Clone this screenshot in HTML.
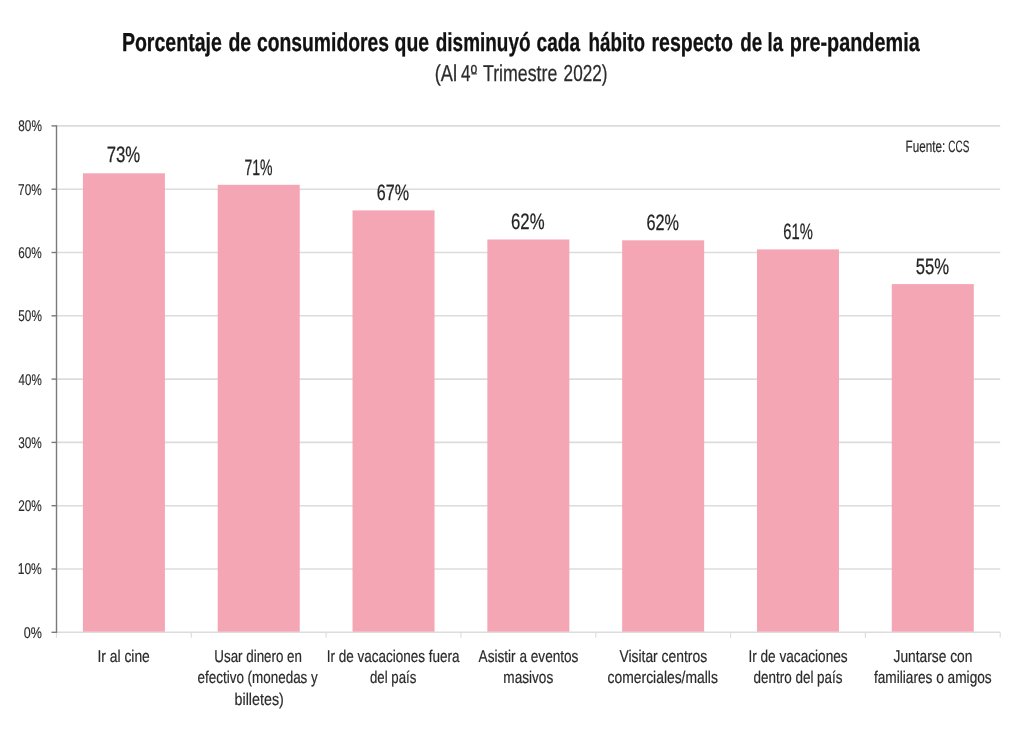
<!DOCTYPE html>
<html lang="es"><head><meta charset="utf-8"><title>Porcentaje de consumidores que disminuyó cada hábito</title>
<style>
html,body{margin:0;padding:0;background:#fff;}
body{width:1024px;height:732px;overflow:hidden;}
svg{display:block;}
text{font-family:"Liberation Sans", sans-serif;fill:#2b2b2b;stroke:#2b2b2b;stroke-linejoin:round;text-rendering:geometricPrecision;}
.t{font-weight:bold;fill:#111;stroke:#111;}
.v{fill:#242424;stroke:#242424;}
</style></head><body>
<svg width="1024" height="732" viewBox="0 0 1024 732">
<rect width="1024" height="732" fill="#ffffff"/>
<line x1="56.50" y1="632.30" x2="1000.20" y2="632.30" stroke="#dcdcdc" stroke-width="1.6"/>
<line x1="56.50" y1="569.00" x2="1000.20" y2="569.00" stroke="#dcdcdc" stroke-width="1.6"/>
<line x1="56.50" y1="505.70" x2="1000.20" y2="505.70" stroke="#dcdcdc" stroke-width="1.6"/>
<line x1="56.50" y1="442.40" x2="1000.20" y2="442.40" stroke="#dcdcdc" stroke-width="1.6"/>
<line x1="56.50" y1="379.10" x2="1000.20" y2="379.10" stroke="#dcdcdc" stroke-width="1.6"/>
<line x1="56.50" y1="315.80" x2="1000.20" y2="315.80" stroke="#dcdcdc" stroke-width="1.6"/>
<line x1="56.50" y1="252.50" x2="1000.20" y2="252.50" stroke="#dcdcdc" stroke-width="1.6"/>
<line x1="56.50" y1="189.20" x2="1000.20" y2="189.20" stroke="#dcdcdc" stroke-width="1.6"/>
<line x1="56.50" y1="125.90" x2="1000.20" y2="125.90" stroke="#dcdcdc" stroke-width="1.6"/>
<line x1="56.50" y1="632.30" x2="56.50" y2="637.80" stroke="#dedede" stroke-width="1.2"/>
<line x1="191.31" y1="632.30" x2="191.31" y2="637.80" stroke="#dedede" stroke-width="1.2"/>
<line x1="326.13" y1="632.30" x2="326.13" y2="637.80" stroke="#dedede" stroke-width="1.2"/>
<line x1="460.94" y1="632.30" x2="460.94" y2="637.80" stroke="#dedede" stroke-width="1.2"/>
<line x1="595.76" y1="632.30" x2="595.76" y2="637.80" stroke="#dedede" stroke-width="1.2"/>
<line x1="730.57" y1="632.30" x2="730.57" y2="637.80" stroke="#dedede" stroke-width="1.2"/>
<line x1="865.39" y1="632.30" x2="865.39" y2="637.80" stroke="#dedede" stroke-width="1.2"/>
<line x1="1000.20" y1="632.30" x2="1000.20" y2="637.80" stroke="#dedede" stroke-width="1.2"/>
<rect x="82.91" y="173.30" width="82.00" height="458.40" fill="#f4a6b4"/>
<rect x="217.72" y="184.80" width="82.00" height="446.90" fill="#f4a6b4"/>
<rect x="352.54" y="210.40" width="82.00" height="421.30" fill="#f4a6b4"/>
<rect x="487.35" y="239.50" width="82.00" height="392.20" fill="#f4a6b4"/>
<rect x="622.16" y="240.30" width="82.00" height="391.40" fill="#f4a6b4"/>
<rect x="756.98" y="249.40" width="82.00" height="382.30" fill="#f4a6b4"/>
<rect x="891.79" y="284.10" width="82.00" height="347.60" fill="#f4a6b4"/>
<line x1="56.50" y1="125.20" x2="56.50" y2="633.00" stroke="#7a7a7a" stroke-width="1.4"/>
<line x1="51.50" y1="632.30" x2="56.50" y2="632.30" stroke="#7a7a7a" stroke-width="1.4"/>
<line x1="51.50" y1="569.00" x2="56.50" y2="569.00" stroke="#7a7a7a" stroke-width="1.4"/>
<line x1="51.50" y1="505.70" x2="56.50" y2="505.70" stroke="#7a7a7a" stroke-width="1.4"/>
<line x1="51.50" y1="442.40" x2="56.50" y2="442.40" stroke="#7a7a7a" stroke-width="1.4"/>
<line x1="51.50" y1="379.10" x2="56.50" y2="379.10" stroke="#7a7a7a" stroke-width="1.4"/>
<line x1="51.50" y1="315.80" x2="56.50" y2="315.80" stroke="#7a7a7a" stroke-width="1.4"/>
<line x1="51.50" y1="252.50" x2="56.50" y2="252.50" stroke="#7a7a7a" stroke-width="1.4"/>
<line x1="51.50" y1="189.20" x2="56.50" y2="189.20" stroke="#7a7a7a" stroke-width="1.4"/>
<line x1="51.50" y1="125.90" x2="56.50" y2="125.90" stroke="#7a7a7a" stroke-width="1.4"/>
<text x="23.80" y="637.70" font-size="15.5" stroke-width="0.15" textLength="18.10" lengthAdjust="spacingAndGlyphs">0%</text>
<text x="17.70" y="574.40" font-size="15.5" stroke-width="0.15" textLength="24.16" lengthAdjust="spacingAndGlyphs">10%</text>
<text x="18.26" y="511.10" font-size="15.5" stroke-width="0.15" textLength="23.60" lengthAdjust="spacingAndGlyphs">20%</text>
<text x="18.20" y="447.80" font-size="15.5" stroke-width="0.15" textLength="23.64" lengthAdjust="spacingAndGlyphs">30%</text>
<text x="18.50" y="384.50" font-size="15.5" stroke-width="0.15" textLength="23.22" lengthAdjust="spacingAndGlyphs">40%</text>
<text x="18.33" y="321.20" font-size="15.5" stroke-width="0.15" textLength="23.54" lengthAdjust="spacingAndGlyphs">50%</text>
<text x="18.22" y="257.90" font-size="15.5" stroke-width="0.15" textLength="23.62" lengthAdjust="spacingAndGlyphs">60%</text>
<text x="18.11" y="194.60" font-size="15.5" stroke-width="0.15" textLength="23.73" lengthAdjust="spacingAndGlyphs">70%</text>
<text x="18.28" y="131.30" font-size="15.5" stroke-width="0.15" textLength="23.59" lengthAdjust="spacingAndGlyphs">80%</text>
<text x="121.89" y="51.30" font-size="26" stroke-width="0.3" textLength="100.01" lengthAdjust="spacingAndGlyphs" class="t">Porcentaje</text>
<text x="228.47" y="51.30" font-size="26" stroke-width="0.3" textLength="22.71" lengthAdjust="spacingAndGlyphs" class="t">de</text>
<text x="256.95" y="51.30" font-size="26" stroke-width="0.3" textLength="132.15" lengthAdjust="spacingAndGlyphs" class="t">consumidores</text>
<text x="394.53" y="51.30" font-size="26" stroke-width="0.3" textLength="34.55" lengthAdjust="spacingAndGlyphs" class="t">que</text>
<text x="435.76" y="51.30" font-size="26" stroke-width="0.3" textLength="94.74" lengthAdjust="spacingAndGlyphs" class="t">disminuyó</text>
<text x="536.56" y="51.30" font-size="26" stroke-width="0.3" textLength="43.47" lengthAdjust="spacingAndGlyphs" class="t">cada</text>
<text x="588.45" y="51.30" font-size="26" stroke-width="0.3" textLength="56.58" lengthAdjust="spacingAndGlyphs" class="t">hábito</text>
<text x="651.40" y="51.30" font-size="26" stroke-width="0.3" textLength="81.60" lengthAdjust="spacingAndGlyphs" class="t">respecto</text>
<text x="740.14" y="51.30" font-size="26" stroke-width="0.3" textLength="21.97" lengthAdjust="spacingAndGlyphs" class="t">de</text>
<text x="767.52" y="51.30" font-size="26" stroke-width="0.3" textLength="15.48" lengthAdjust="spacingAndGlyphs" class="t">la</text>
<text x="789.63" y="51.30" font-size="26" stroke-width="0.3" textLength="130.07" lengthAdjust="spacingAndGlyphs" class="t">pre-pandemia</text>
<text x="434.64" y="80.90" font-size="23" stroke-width="0.25" textLength="22.35" lengthAdjust="spacingAndGlyphs">(Al</text>
<text x="461.10" y="80.90" font-size="23" stroke-width="0.25" textLength="15.82" lengthAdjust="spacingAndGlyphs">4º</text>
<text x="483.02" y="80.90" font-size="23" stroke-width="0.25" textLength="74.34" lengthAdjust="spacingAndGlyphs">Trimestre</text>
<text x="563.62" y="80.90" font-size="23" stroke-width="0.25" textLength="43.92" lengthAdjust="spacingAndGlyphs">2022)</text>
<text x="905.61" y="152.00" font-size="16.5" stroke-width="0.2" textLength="39.69" lengthAdjust="spacingAndGlyphs">Fuente:</text>
<text x="948.33" y="152.00" font-size="16.5" stroke-width="0.2" textLength="20.91" lengthAdjust="spacingAndGlyphs">CCS</text>
<text x="106.66" y="162.30" font-size="22.2" stroke-width="0.25" textLength="33.50" lengthAdjust="spacingAndGlyphs" class="v">73%</text>
<text x="244.44" y="174.70" font-size="22.2" stroke-width="0.25" textLength="28.17" lengthAdjust="spacingAndGlyphs" class="v">71%</text>
<text x="376.73" y="199.80" font-size="22.2" stroke-width="0.25" textLength="32.29" lengthAdjust="spacingAndGlyphs" class="v">67%</text>
<text x="511.00" y="229.00" font-size="22.2" stroke-width="0.25" textLength="33.54" lengthAdjust="spacingAndGlyphs" class="v">62%</text>
<text x="646.44" y="229.70" font-size="22.2" stroke-width="0.25" textLength="32.57" lengthAdjust="spacingAndGlyphs" class="v">62%</text>
<text x="783.35" y="238.90" font-size="22.2" stroke-width="0.25" textLength="29.56" lengthAdjust="spacingAndGlyphs" class="v">61%</text>
<text x="915.64" y="273.50" font-size="22.2" stroke-width="0.25" textLength="33.39" lengthAdjust="spacingAndGlyphs" class="v">55%</text>
<text x="97.43" y="661.80" font-size="17" stroke-width="0.2" textLength="52.39" lengthAdjust="spacingAndGlyphs">Ir al cine</text>
<text x="214.33" y="661.80" font-size="17" stroke-width="0.2" textLength="87.67" lengthAdjust="spacingAndGlyphs">Usar dinero en</text>
<text x="197.60" y="683.40" font-size="17" stroke-width="0.2" textLength="120.17" lengthAdjust="spacingAndGlyphs">efectivo (monedas y</text>
<text x="234.60" y="705.00" font-size="17" stroke-width="0.2" textLength="49.18" lengthAdjust="spacingAndGlyphs">billetes)</text>
<text x="326.78" y="661.80" font-size="17" stroke-width="0.2" textLength="132.82" lengthAdjust="spacingAndGlyphs">Ir de vacaciones fuera</text>
<text x="370.01" y="683.40" font-size="17" stroke-width="0.2" textLength="46.31" lengthAdjust="spacingAndGlyphs">del país</text>
<text x="478.59" y="661.80" font-size="17" stroke-width="0.2" textLength="99.86" lengthAdjust="spacingAndGlyphs">Asistir a eventos</text>
<text x="503.31" y="683.40" font-size="17" stroke-width="0.2" textLength="49.95" lengthAdjust="spacingAndGlyphs">masivos</text>
<text x="619.44" y="661.80" font-size="17" stroke-width="0.2" textLength="87.66" lengthAdjust="spacingAndGlyphs">Visitar centros</text>
<text x="607.60" y="683.40" font-size="17" stroke-width="0.2" textLength="110.27" lengthAdjust="spacingAndGlyphs">comerciales/malls</text>
<text x="748.40" y="661.80" font-size="17" stroke-width="0.2" textLength="99.22" lengthAdjust="spacingAndGlyphs">Ir de vacaciones</text>
<text x="753.60" y="683.40" font-size="17" stroke-width="0.2" textLength="88.93" lengthAdjust="spacingAndGlyphs">dentro del país</text>
<text x="893.56" y="661.80" font-size="17" stroke-width="0.2" textLength="78.79" lengthAdjust="spacingAndGlyphs">Juntarse con</text>
<text x="873.89" y="683.40" font-size="17" stroke-width="0.2" textLength="117.81" lengthAdjust="spacingAndGlyphs">familiares o amigos</text>
<line x1="471.4" y1="73.9" x2="476.8" y2="73.9" stroke="#2b2b2b" stroke-width="1.1"/>
</svg></body></html>
